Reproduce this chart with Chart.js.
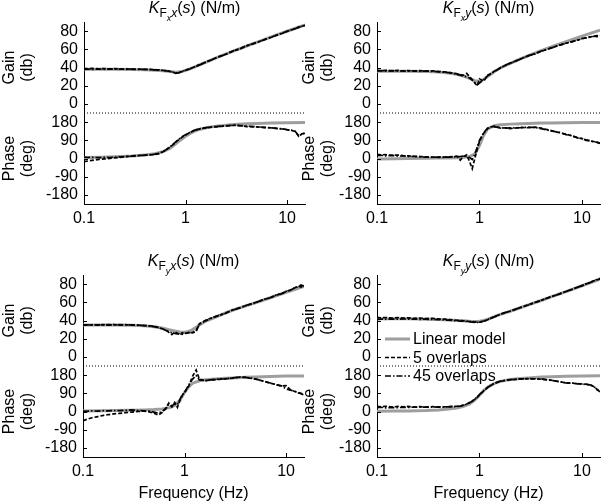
<!DOCTYPE html>
<html>
<head>
<meta charset="utf-8">
<script src="https://cdn.jsdelivr.net/npm/chart.js@4.4.1/dist/chart.umd.min.js"></script>
<style>
  body { margin: 0; background: #fff; }
  #wrap { position: relative; width: 601px; height: 503px; overflow: hidden; background: #fff; }
  canvas { position: absolute; }
</style>
</head>
<body>
<div id="wrap">
  <canvas id="pFxx" width="310" height="250" style="left:0;top:0"></canvas>
  <canvas id="pFyx" width="310" height="253" style="left:0;top:250px"></canvas>
  <canvas id="pFxy" width="301" height="250" style="left:300px;top:0"></canvas>
  <canvas id="pFyy" width="301" height="253" style="left:300px;top:250px"></canvas>
</div>
<script>
// frequency grids (Hz)
const freqModel = [0.1, 0.15, 0.2, 0.3, 0.4, 0.5, 0.6, 0.7, 0.8, 0.9, 1.0, 1.1, 1.2, 1.4, 1.6, 2, 2.5, 3, 4, 5, 7, 10, 15];
const freqMeas = [0.1, 0.11, 0.12, 0.14, 0.16, 0.18, 0.2, 0.23, 0.26, 0.3,
  0.35, 0.4, 0.45, 0.5, 0.55, 0.6, 0.65, 0.7, 0.75, 0.8,
  0.85, 0.9, 0.95, 1.0, 1.1, 1.2, 1.3, 1.4, 1.6, 1.8,
  2.0, 2.5, 3.0, 3.5, 4, 5, 6, 7, 8, 9,
  10, 11, 12, 13, 14, 15];

const seriesNames = ['Linear model', '5 overlaps', '45 overlaps'];
const xTicks = [0.1, 1, 10];
const xTickLabels = ['0.1', '1', '10'];
const gainTicks = [0, 20, 40, 60, 80];
const phaseTicks = [-180, -90, 0, 90, 180];
const gainRange = [-10, 90];
const phaseRange = [-225, 225];
const freqRange = [0.1, 15];

// K_Fx x
const fxxGainModel = [38, 38, 38, 37.8, 37.5, 37, 36.3, 35.5, 34.8, 35.2, 36.8, 38.5, 40.2, 43.3, 46, 50.5, 54.9, 58.3, 63.6, 67.6, 73.6, 79.8, 86.9];
const fxxPhaseModel = [5, 6.5, 8.5, 12.5, 17.5, 24, 34, 50, 72, 93, 110, 123, 133, 145, 152, 160, 165, 168, 171.5, 173.5, 175.5, 177, 178];
const fxxGain5 = [39.2, 38.5, 39.0, 38.4, 38.9, 38.3, 38.7, 38.2, 38.5, 38.0,
  38.3, 37.8, 37.9, 37.3, 37.4, 36.8, 36.4, 35.6, 34.8, 33.6,
  34.2, 35.0, 36.0, 37.0, 38.6, 40.3, 41.8, 43.4, 46.1, 48.5,
  50.6, 54.7, 58.5, 61.0, 63.8, 67.3, 70.8, 73.3, 75.9, 77.7,
  79.9, 81.2, 82.9, 84.1, 85.6, 86.1];
const fxxGain45 = [37.8, 38.2, 37.9, 38.3, 38.0, 38.4, 38.1, 38.3, 38.0, 38.2,
  37.9, 38.0, 37.6, 37.4, 37.0, 36.9, 36.2, 35.9, 35.0, 34.2,
  33.9, 35.3, 36.2, 37.2, 38.4, 40.1, 42.0, 43.2, 46.3, 48.3,
  50.8, 54.5, 58.7, 60.8, 64.0, 67.5, 70.6, 73.6, 75.7, 78.0,
  79.7, 81.5, 82.6, 84.4, 85.3, 86.6];
const fxxPhase5 = [-16, -12, -9, -5, -2, 1, 3, 6, 9, 13,
  15, 16, 18, 20, 24, 33, 44, 56, 68, 80,
  92, 101, 110, 116, 128, 137, 143, 147, 152, 155,
  157, 161, 164, 162, 158, 156, 153, 151, 148, 146,
  142, 139, 134, 110, 122, 126];
const fxxPhase45 = [7, 5, 6, 4, 6, 5, 7, 8, 10, 12,
  14, 17, 19, 22, 26, 34, 45, 57, 70, 82,
  94, 103, 111, 118, 129, 138, 144, 148, 153, 156,
  158, 162, 165, 163, 160, 157, 154, 152, 149, 147,
  143, 140, 135, 112, 120, 125];

// K_Fx y
const fxyGainModel = [36, 36, 35.9, 35.6, 35, 34, 32.5, 30.5, 28, 25.5, 25, 27, 30, 35.5, 39.5, 44.5, 49.5, 53, 58.5, 62.5, 68.5, 74.5, 81];
const fxyPhaseModel = [-2, -1, 0, 1, 2, 3, 4, 6, 10, 22, 65, 115, 146, 162, 167, 170, 172, 173, 175, 176, 177, 177.5, 178];
const fxyGain5 = [37.0, 36.4, 36.9, 36.3, 36.8, 36.2, 36.7, 36.1, 36.5, 36.0,
  36.4, 35.6, 35.2, 34.6, 33.9, 33.0, 32.0, 31.5, 33.5, 30.0,
  26.5, 23.0, 20.0, 27.5, 25.0, 31.5, 33.5, 36.0, 39.8, 42.5,
  44.6, 49.3, 52.8, 55.4, 57.8, 61.6, 64.3, 66.8, 68.2, 70.1,
  71.5, 72.8, 73.4, 74.6, 73.9, 74.8];
const fxyGain45 = [36.2, 36.6, 36.1, 36.5, 36.0, 36.4, 35.9, 36.3, 35.8, 36.1,
  35.7, 35.3, 34.9, 34.2, 33.6, 32.6, 31.6, 30.6, 29.8, 28.4,
  26.2, 23.5, 21.0, 23.0, 26.5, 30.8, 33.0, 35.6, 39.5, 42.8,
  44.9, 49.0, 53.1, 55.0, 58.1, 61.3, 64.6, 66.4, 68.6, 69.8,
  71.9, 72.5, 73.8, 74.2, 75.1, 74.3];
const fxyPhase5 = [20, 18, 19, 16, 17, 14, 13, 11, 10, 8,
  7, 6, 7, 8, 9, 12, -8, 10, 18, -15,
  -50, 0, 45, 85, 125, 148, 156, 160, 150, 152,
  148, 154, 152, 155, 150, 138, 128, 120, 112, 104,
  98, 92, 87, 84, 80, 76];
const fxyPhase45 = [14, 16, 13, 15, 12, 13, 11, 10, 8, 7,
  6, 7, 6, 7, 8, 9, 10, 12, 10, 5,
  -5, 20, 55, 90, 128, 150, 157, 156, 152, 150,
  151, 152, 155, 153, 148, 136, 130, 118, 113, 102,
  99, 90, 88, 82, 81, 74];

// K_Fy x
const fyxGainModel = [35, 35, 35, 34.8, 34.2, 33.2, 31.8, 30, 28.5, 27.5, 27.2, 28, 30, 35, 39, 43.5, 48, 51.5, 56, 59.5, 65, 71, 77.5];
const fyxPhaseModel = [3, 4, 5, 6, 8, 10, 13, 18, 30, 55, 95, 122, 140, 152, 157, 161, 164, 166, 169, 171, 173, 175, 176];
const fyxGain5 = [35.2, 34.8, 35.3, 34.9, 35.4, 35.0, 35.5, 35.1, 35.4, 34.8,
  35.0, 34.5, 34.2, 33.6, 32.5, 31.0, 29.5, 27.0, 24.5, 27.5,
  26.0, 24.0, 26.5, 25.0, 27.0, 26.5, 28.0, 36.5, 40.0, 42.5,
  44.0, 48.0, 51.5, 54.0, 56.2, 59.8, 62.9, 65.2, 67.8, 69.5,
  71.8, 73.6, 75.4, 77.9, 76.8, 78.5];
const fyxGain45 = [34.8, 35.2, 34.9, 35.3, 35.0, 35.4, 35.1, 35.4, 35.0, 35.2,
  34.7, 34.4, 33.9, 33.2, 32.2, 30.8, 29.2, 27.8, 26.5, 25.8,
  25.2, 25.8, 24.8, 26.0, 26.5, 27.2, 29.0, 35.8, 39.6, 42.0,
  44.3, 47.6, 51.8, 53.7, 56.5, 59.5, 63.2, 65.0, 68.1, 69.3,
  72.1, 73.2, 75.8, 77.0, 79.0, 77.6];
const fyxPhase5 = [-45, -38, -32, -25, -19, -15, -12, -9, -6, -3,
  0, 2, -2, -8, -18, -5, 15, 42, 22, 45,
  20, 55, 80, 95, 125, 175, 205, 160, 152, 155,
  158, 161, 165, 170, 168, 160, 150, 140, 133, 126,
  128, 108, 100, 95, 90, 84];
const fyxPhase45 = [2, 1, 3, 2, 4, 3, 5, 4, 6, 8,
  5, 3, 2, -3, -8, 0, 12, 35, 28, 38,
  32, 60, 82, 92, 132, 160, 178, 156, 153, 156,
  159, 162, 166, 171, 169, 161, 149, 141, 132, 127,
  112, 106, 101, 93, 88, 82];

// K_Fy y
const fyyGainModel = [42, 41.9, 41.8, 41.5, 41, 40.6, 40.1, 39.6, 39.2, 39, 39.2, 40, 41.3, 44.3, 46.8, 50.2, 54, 57.2, 62, 66, 71.8, 78.2, 85.5];
const fyyPhaseModel = [1, 2, 3, 5, 8, 12, 17, 25, 38, 56, 80, 103, 120, 139, 149, 158, 163, 166, 170, 172, 174.5, 176, 177];
const fyyGain5 = [43.5, 42.9, 43.3, 42.7, 43.1, 42.6, 42.9, 42.4, 42.7, 42.2,
  42.4, 41.7, 41.5, 41.0, 40.8, 40.3, 40.0, 39.6, 39.3, 38.9,
  38.5, 38.2, 38.6, 38.1, 39.0, 40.8, 42.6, 44.2, 46.9, 48.6,
  50.4, 54.1, 57.3, 59.8, 62.2, 66.1, 69.2, 71.9, 74.3, 76.4,
  78.3, 80.1, 81.8, 83.4, 84.5, 85.9];
const fyyGain45 = [41.2, 41.6, 41.3, 41.7, 41.4, 41.8, 41.5, 41.7, 41.3, 41.5,
  41.1, 41.0, 40.6, 40.4, 40.0, 39.8, 39.4, 39.2, 38.9, 38.6,
  38.3, 38.0, 37.8, 38.3, 39.4, 41.0, 42.8, 44.0, 47.0, 48.9,
  50.2, 54.3, 57.0, 60.0, 62.0, 66.3, 69.0, 72.1, 74.1, 76.6,
  78.1, 80.3, 81.6, 83.6, 85.1, 86.3];
const fyyPhase5 = [25, 23, 26, 22, 25, 23, 25, 22, 24, 22,
  24, 22, 23, 24, 25, 26, 28, 32, 37, 44,
  52, 60, 70, 82, 102, 118, 130, 139, 149, 154,
  157, 160, 162, 161, 160, 155, 147, 142, 140, 138,
  136, 135, 131, 124, 110, 100];
const fyyPhase45 = [19, 21, 18, 20, 19, 21, 20, 22, 21, 22,
  21, 23, 22, 23, 24, 25, 27, 31, 36, 43,
  51, 61, 71, 83, 103, 119, 131, 140, 150, 155,
  158, 161, 163, 162, 161, 154, 148, 141, 141, 137,
  137, 133, 132, 126, 108, 98];

Chart.defaults.font.family = '"Liberation Sans", Arial, Helvetica, sans-serif';
Chart.defaults.font.size = 16;
Chart.defaults.color = '#000';

const styles = [
  { borderColor: 'rgb(158,158,158)', borderWidth: 3, borderDash: [], order: 3 },
  { borderColor: '#000', borderWidth: 1.7, borderDash: [4, 2], order: 2 },
  { borderColor: '#000', borderWidth: 1.7, borderDash: [6, 2, 1.5, 2], order: 1 }
];

function pts(xs, ys) {
  return ys.map((y, i) => ({ x: xs[i], y: y }));
}

function series(idx, xs, ys, axis) {
  return Object.assign({
    label: seriesNames[idx],
    data: pts(xs, ys),
    yAxisID: axis,
    pointRadius: 0,
    tension: 0,
    fill: false
  }, styles[idx]);
}

// title like K_{F_x x}(s) (N/m)
const titlePlugin = {
  id: 'kTitle',
  afterDraw(chart, args, opts) {
    const ctx = chart.ctx, a = chart.chartArea;
    const fam = Chart.defaults.font.family;
    const parts = [
      { t: 'K', size: 16, style: 'italic ', dy: 0 },
      { t: 'F', size: 12, style: '', dy: 4 },
      { t: opts.sub[0], size: 9, style: 'italic ', dy: 8 },
      { t: opts.sub[1], size: 12, style: 'italic ', dy: 4 },
      { t: '(', size: 16, style: '', dy: 0 },
      { t: 's', size: 16, style: 'italic ', dy: 0 },
      { t: ') (N/m)', size: 16, style: '', dy: 0 }
    ];
    ctx.save();
    ctx.fillStyle = '#000';
    ctx.textBaseline = 'alphabetic';
    let total = 0;
    parts.forEach(p => {
      ctx.font = p.style + p.size + 'px ' + fam;
      p.w = ctx.measureText(p.t).width;
      total += p.w;
    });
    let x = (a.left + a.right) / 2 - total / 2;
    const base = a.top - opts.lift;
    parts.forEach(p => {
      ctx.font = p.style + p.size + 'px ' + fam;
      ctx.fillText(p.t, x, base + p.dy);
      x += p.w;
    });
    ctx.restore();
  }
};

// inward tick marks
const tickPlugin = {
  id: 'inTicks',
  afterDraw(chart) {
    const ctx = chart.ctx, a = chart.chartArea;
    ctx.save();
    ctx.strokeStyle = '#000';
    ctx.lineWidth = 1;
    ctx.beginPath();
    const sx = chart.scales.x;
    sx.ticks.forEach(t => {
      const px = Math.round(sx.getPixelForValue(t.value)) + 0.5;
      ctx.moveTo(px, a.bottom);
      ctx.lineTo(px, a.bottom - 4);
    });
    ['yGain', 'yPhase'].forEach(k => {
      const s = chart.scales[k];
      s.ticks.forEach(t => {
        const py = Math.round(s.getPixelForValue(t.value)) + 0.5;
        ctx.moveTo(a.left, py);
        ctx.lineTo(a.left + 4, py);
      });
    });
    ctx.stroke();
    ctx.restore();
  }
};

// legend drawn inside the plot area
const legendPlugin = {
  id: 'inLegend',
  afterDraw(chart, args, opts) {
    if (!opts.show) return;
    const ctx = chart.ctx, a = chart.chartArea;
    ctx.save();
    ctx.font = '16px ' + Chart.defaults.font.family;
    ctx.textBaseline = 'middle';
    ctx.fillStyle = '#000';
    seriesNames.forEach((name, i) => {
      const y = a.top + opts.y + i * opts.row;
      const st = styles[i];
      ctx.strokeStyle = st.borderColor;
      ctx.lineWidth = Math.min(st.borderWidth, 3);
      ctx.setLineDash(st.borderDash);
      ctx.beginPath();
      ctx.moveTo(a.left + opts.x, y);
      ctx.lineTo(a.left + opts.x + opts.len, y);
      ctx.stroke();
      ctx.setLineDash([]);
      ctx.fillText(name, a.left + opts.x + opts.len + 3, y + 1);
    });
    ctx.restore();
  }
};

function makePanel(id, p) {
  const datasets = [
    series(0, freqModel, p.gainModel, 'yGain'),
    series(1, freqMeas, p.gain5, 'yGain'),
    series(2, freqMeas, p.gain45, 'yGain'),
    series(0, freqModel, p.phaseModel, 'yPhase'),
    series(1, freqMeas, p.phase5, 'yPhase'),
    series(2, freqMeas, p.phase45, 'yPhase'),
    {
      label: 'sep',
      data: pts(freqRange, [gainRange[0], gainRange[0]]),
      yAxisID: 'yGain',
      borderColor: '#000',
      borderWidth: 1,
      borderDash: [1, 2],
      pointRadius: 0,
      clip: false,
      order: 0
    }
  ];
  const yBase = {
    position: 'left',
    stack: 'bode',
    stackWeight: 1,
    grid: { display: false, drawTicks: false },
    border: { color: '#000', width: 1 },
    afterFit: s => { s.width = p.left; }
  };
  new Chart(document.getElementById(id), {
    type: 'line',
    data: { datasets },
    options: {
      responsive: false,
      animation: false,
      devicePixelRatio: 1,
      layout: { padding: { top: p.top, right: p.right, left: 0, bottom: 0 } },
      plugins: {
        legend: { display: false },
        tooltip: { enabled: false },
        kTitle: { sub: p.sub, lift: 9 },
        inLegend: { show: !!p.legend, x: 8, y: 64, row: 18.5, len: 25 }
      },
      scales: {
        x: {
          type: 'logarithmic',
          min: freqRange[0],
          max: freqRange[1],
          grid: { display: false, drawTicks: false },
          border: { color: '#000', width: 1 },
          afterBuildTicks: s => { s.ticks = xTicks.map(v => ({ value: v })); },
          afterFit: s => { s.height = p.bottomH; },
          ticks: {
            padding: 5,
            maxRotation: 0,
            autoSkip: false,
            callback: v => xTickLabels[xTicks.indexOf(v)]
          },
          title: {
            display: !!p.xTitle,
            text: 'Frequency (Hz)',
            padding: { top: 0, bottom: 0 }
          }
        },
        yGain: Object.assign({}, yBase, {
          weight: 2,
          min: gainRange[0],
          max: gainRange[1],
          afterBuildTicks: s => { s.ticks = gainTicks.map(v => ({ value: v })); },
          ticks: { padding: 6, autoSkip: false },
          title: { display: true, text: ['Gain', '(db)'], padding: { top: 0, bottom: 0 }, font: { lineHeight: 1.15 } }
        }),
        yPhase: Object.assign({}, yBase, {
          weight: 1,
          min: phaseRange[0],
          max: phaseRange[1],
          afterBuildTicks: s => { s.ticks = phaseTicks.map(v => ({ value: v })); },
          ticks: { padding: 6, autoSkip: false },
          title: { display: true, text: ['Phase', '(deg)'], padding: { top: 0, bottom: 0 }, font: { lineHeight: 1.15 } }
        })
      }
    },
    plugins: [titlePlugin, tickPlugin, legendPlugin]
  });
}

makePanel('pFxx', { sub: ['x', 'x'], left: 84, top: 22, right: 5, bottomH: 46,
  gainModel: fxxGainModel, gain5: fxxGain5, gain45: fxxGain45,
  phaseModel: fxxPhaseModel, phase5: fxxPhase5, phase45: fxxPhase45 });
makePanel('pFxy', { sub: ['x', 'y'], left: 77, top: 22, right: 1, bottomH: 46,
  gainModel: fxyGainModel, gain5: fxyGain5, gain45: fxyGain45,
  phaseModel: fxyPhaseModel, phase5: fxyPhase5, phase45: fxyPhase45 });
makePanel('pFyx', { sub: ['y', 'x'], left: 83, top: 25, right: 6, bottomH: 46, xTitle: true,
  gainModel: fyxGainModel, gain5: fyxGain5, gain45: fyxGain45,
  phaseModel: fyxPhaseModel, phase5: fyxPhase5, phase45: fyxPhase45 });
makePanel('pFyy', { sub: ['y', 'y'], left: 77, top: 25, right: 1, bottomH: 46, xTitle: true, legend: true,
  gainModel: fyyGainModel, gain5: fyyGain5, gain45: fyyGain45,
  phaseModel: fyyPhaseModel, phase5: fyyPhase5, phase45: fyyPhase45 });
</script>
</body>
</html>
